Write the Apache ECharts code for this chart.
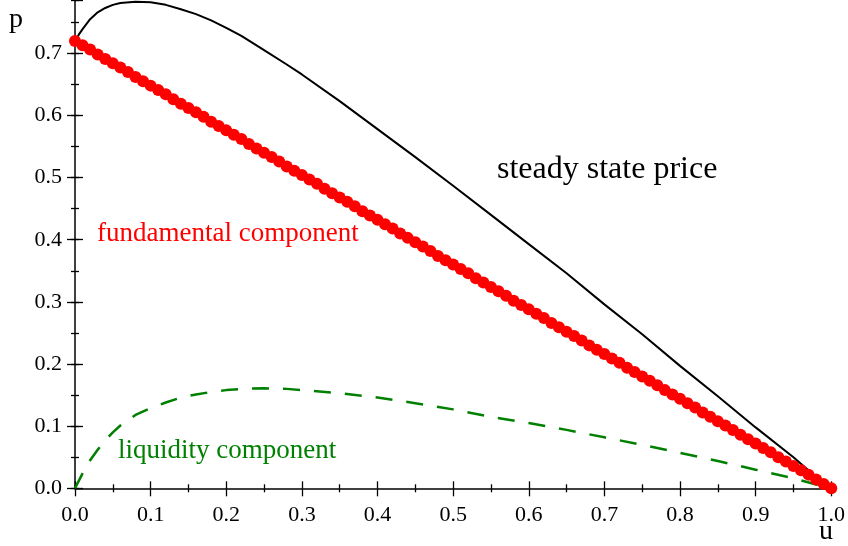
<!DOCTYPE html>
<html>
<head>
<meta charset="utf-8">
<script src="https://cdn.jsdelivr.net/npm/echarts@6/dist/echarts.min.js"></script>
<style>
html,body{margin:0;padding:0;background:#fff;}
#c{width:848px;height:546px;}
</style>
</head>
<body>
<div id="c"></div>
<script>
// ---- data ----
var fundamentalU = [0.00,0.01,0.02,0.03,0.04,0.05,0.06,0.07,0.08,0.09,0.10,0.11,0.12,0.13,0.14,0.15,0.16,0.17,0.18,0.19,0.20,0.21,0.22,0.23,0.24,0.25,0.26,0.27,0.28,0.29,0.30,0.31,0.32,0.33,0.34,0.35,0.36,0.37,0.38,0.39,0.40,0.41,0.42,0.43,0.44,0.45,0.46,0.47,0.48,0.49,0.50,0.51,0.52,0.53,0.54,0.55,0.56,0.57,0.58,0.59,0.60,0.61,0.62,0.63,0.64,0.65,0.66,0.67,0.68,0.69,0.70,0.71,0.72,0.73,0.74,0.75,0.76,0.77,0.78,0.79,0.80,0.81,0.82,0.83,0.84,0.85,0.86,0.87,0.88,0.89,0.90,0.91,0.92,0.93,0.94,0.95,0.96,0.97,0.98,0.99,1.00];
var fundamentalP = [0.720,0.713,0.706,0.698,0.691,0.684,0.677,0.670,0.662,0.655,0.648,0.641,0.634,0.626,0.619,0.612,0.605,0.598,0.590,0.583,0.576,0.569,0.562,0.554,0.547,0.540,0.533,0.526,0.518,0.511,0.504,0.497,0.490,0.482,0.475,0.468,0.461,0.454,0.446,0.439,0.432,0.425,0.418,0.410,0.403,0.396,0.389,0.382,0.374,0.367,0.360,0.353,0.346,0.338,0.331,0.324,0.317,0.310,0.302,0.295,0.288,0.281,0.274,0.266,0.259,0.252,0.245,0.238,0.230,0.223,0.216,0.209,0.202,0.194,0.187,0.180,0.173,0.166,0.158,0.151,0.144,0.137,0.130,0.122,0.115,0.108,0.101,0.094,0.086,0.079,0.072,0.065,0.058,0.050,0.043,0.036,0.029,0.022,0.014,0.007,0.000];

var curveU = [0,0.005,0.01,0.02,0.03,0.04,0.05,0.06,0.08,0.10,0.12,0.14,0.16,0.18,0.20,0.22,0.25,0.28,0.30,0.35,0.40,0.45,0.50,0.55,0.60,0.65,0.70,0.75,0.80,0.85,0.90,0.95,0.98,1.00];
var steadyP = [0.720,0.730,0.739,0.755,0.766,0.773,0.778,0.781,0.783,0.782,0.778,0.771,0.763,0.753,0.741,0.728,0.705,0.682,0.666,0.623,0.578,0.533,0.487,0.440,0.393,0.346,0.296,0.248,0.197,0.148,0.098,0.050,0.018,0.000];
var liquidityP = [0,0.012,0.024,0.045,0.062,0.077,0.090,0.101,0.118,0.129,0.138,0.146,0.151,0.155,0.158,0.160,0.161,0.160,0.158,0.153,0.146,0.137,0.127,0.115,0.105,0.094,0.082,0.070,0.057,0.044,0.030,0.016,0.006,0];

var xTickLabels = ['0.0','0.1','0.2','0.3','0.4','0.5','0.6','0.7','0.8','0.9','1.0'];
var yTickLabels = ['0.0','0.1','0.2','0.3','0.4','0.5','0.6','0.7'];

var labelSteady = 'steady state price';
var labelFund = 'fundamental component';
var labelLiq = 'liquidity component';

function pairs(xs, ys){ return xs.map(function(x,i){ return [x, ys[i]]; }); }

var FONT = 'Liberation Serif';
var chart = echarts.init(document.getElementById('c'), null, {renderer:'canvas'});

var tickStyle = {color:'#000', width:1.3};
var baseX = {type:'value', min:0, max:1, interval:0.1, position:'bottom', splitLine:{show:false}};
var Y_MAX = 0.7858;
function yAx(interval, inside, len, extra){
  return Object.assign({type:'value', min:0, max:Y_MAX, interval:interval, position:'left',
    splitLine:{show:false}, axisLine:{show:false}, axisLabel:{show:false},
    axisTick:{show:true, inside:inside, length:len, lineStyle:tickStyle}}, extra||{});
}

chart.setOption({
  animation:false,
  backgroundColor:'#fff',
  grid:{left:75, right:13, top:0, bottom:57.7, containLabel:false},
  xAxis:[
    Object.assign({}, baseX, {
      axisLine:{show:true, onZero:false, lineStyle:{color:'#000', width:1.5}},
      axisTick:{show:true, inside:false, length:8, lineStyle:tickStyle},
      minorTick:{show:true, splitNumber:2, length:4, lineStyle:tickStyle},
      axisLabel:{show:true, margin:16, fontFamily:FONT, fontSize:22, color:'#000',
        formatter:function(v){ var i=Math.round(v*10); return (Math.abs(v*10-i)<1e-6 && xTickLabels[i]) ? xTickLabels[i] : ''; }}
    }),
    Object.assign({}, baseX, {
      axisLine:{show:false},
      axisTick:{show:true, inside:true, length:7, lineStyle:tickStyle},
      minorTick:{show:true, splitNumber:2, length:4, lineStyle:tickStyle},
      axisLabel:{show:false}
    })
  ],
  yAxis:[
    yAx(0.1, false, 8, {
      axisLine:{show:true, onZero:false, lineStyle:{color:'#000', width:1.5}},
      axisLabel:{show:true, margin:13, fontFamily:FONT, fontSize:22, color:'#000', showMaxLabel:false,
        formatter:function(v){ var i=Math.round(v*10); return (Math.abs(v*10-i)<1e-6 && yTickLabels[i]) ? yTickLabels[i] : ''; }}
    }),
    yAx(0.1, true, 8),
    yAx(0.05, false, 4),
    yAx(0.05, true, 4)
  ],
  series:[
    {type:'line', name:labelLiq, data:pairs(curveU, liquidityP), showSymbol:false, smooth:false,
     lineStyle:{color:'#008000', width:2.5, type:[17,14]}, z:2},
    {type:'line', name:labelSteady, data:pairs(curveU, steadyP), showSymbol:false, smooth:false,
     lineStyle:{color:'#000', width:2}, z:3},
    {type:'scatter', name:labelFund, data:pairs(fundamentalU, fundamentalP), symbol:'circle', symbolSize:12,
     itemStyle:{color:'#ff0000', opacity:1}, z:4}
  ],
  graphic:[
    {type:'text', left:9, top:6, style:{text:'p', font:'28px "Liberation Serif"', fill:'#000'}},
    {type:'text', left:819, top:518, style:{text:'u', font:'28px "Liberation Serif"', fill:'#000'}},
    {type:'text', left:497, top:154, style:{text:labelSteady, font:'32px "Liberation Serif"', fill:'#000'}},
    {type:'text', left:97, top:220, style:{text:labelFund, font:'27px "Liberation Serif"', fill:'#ff0000'}},
    {type:'text', left:118, top:437, style:{text:labelLiq, font:'27px "Liberation Serif"', fill:'#008000'}}
  ]
});
</script>
</body>
</html>
